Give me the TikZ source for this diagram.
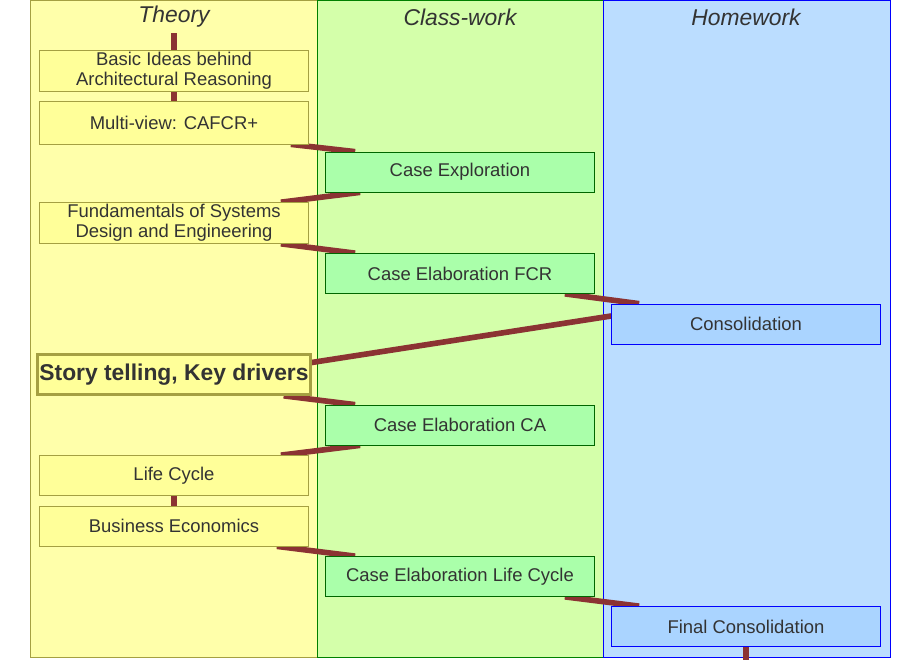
\documentclass[tikz,border=0pt]{standalone}
\usepackage{fontspec}
\setmainfont{Liberation Sans}
\usetikzlibrary{positioning}
\pgfdeclarelayer{bg}
\pgfdeclarelayer{mid}
\pgfsetlayers{bg,mid,main}

\definecolor{colY}{HTML}{FFFFAA}
\definecolor{colG}{HTML}{D4FFAA}
\definecolor{colB}{HTML}{BBDDFF}
\definecolor{boxY}{HTML}{FFFF99}
\definecolor{boxG}{HTML}{AAFFAA}
\definecolor{boxB}{HTML}{AAD4FF}
\definecolor{link}{HTML}{8B3333}
\definecolor{txt}{HTML}{333333}

\newlength{\pxu}
\setlength{\pxu}{0.2mm}
\tikzset{
  stepbox/.style={draw, minimum width=269\pxu, minimum height=40\pxu, inner sep=1pt,
    align=center, font=\fontsize{10.5}{11.5}\selectfont, text=txt},
  theory/.style={stepbox, fill=boxY, draw=black!40!yellow},
  classw/.style={stepbox, fill=boxG, draw=green!40!black},
  homew/.style={stepbox, fill=boxB, draw=blue},
  link/.style={draw=link, line width=3.2pt},
  head/.style={font=\fontsize{13}{14}\selectfont\itshape, text=txt}
}

\begin{document}
\begin{tikzpicture}[x=0.2mm, y=-0.2mm]
  \useasboundingbox (0,0) rectangle (920,660);
  % columns
  \begin{pgfonlayer}{bg}
    \draw[fill=colY, draw=black!40!yellow] (30,0) rectangle (317,657);
    \draw[fill=colG, draw=green!50!black] (317,0) rectangle (603,657);
    \draw[fill=colB, draw=blue] (603,0) rectangle (890,657);
  \end{pgfonlayer}
  \node[head] (hT) at (174,17) {Theory};
  \node[head] (hC) at (460,17) {Class-work};
  \node[head] (hH) at (746,17) {Homework};

  % theory
  \node[theory] (basic) at (174,71) {Basic Ideas behind\\Architectural Reasoning};
  \node[theory, minimum height=43\pxu] (mview) at (174,122.5) {Multi-view: CAFCR+};
  \node[theory] (fund) at (174,223) {Fundamentals of Systems\\Design and Engineering};
  \node[theory, line width=1.5pt, font=\fontsize{13}{14}\selectfont\bfseries] (story) at (174,374.5) {Story telling, Key drivers};
  \node[theory] (life) at (174,475.5) {Life Cycle};
  \node[theory] (econ) at (174,526) {Business Economics};

  % class-work
  \node[classw] (explo) at (460,172) {Case Exploration};
  \node[classw] (fcr) at (460,273.5) {Case Elaboration FCR};
  \node[classw] (ca) at (460,425) {Case Elaboration CA};
  \node[classw] (clife) at (460,576.5) {Case Elaboration Life Cycle};

  % homework
  \node[homew] (cons) at (746,324) {Consolidation};
  \node[homew] (fcons) at (746,626.5) {Final Consolidation};

  \coordinate (top) at (174,33);
  \coordinate (bot) at (746,660);

  % connectors
  \begin{pgfonlayer}{mid}
    \draw[link] (top) -- (basic);
    \draw[link] (basic) -- (mview);
    \draw[link] ([xshift=-18\pxu]mview.south east) -- ([xshift=30\pxu]explo.north west);
    \draw[link] ([xshift=35\pxu]explo.south west) -- ([xshift=-28\pxu]fund.north east);
    \draw[link] ([xshift=-28\pxu]fund.south east) -- ([xshift=30\pxu]fcr.north west);
    \draw[link] ([xshift=-30\pxu]fcr.south east) -- ([xshift=28\pxu]cons.north west);
    \draw[link] ([yshift=8\pxu]cons.west) -- ([yshift=12\pxu]story.east);
    \draw[link] ([xshift=-28\pxu]story.south east) -- ([xshift=30\pxu]ca.north west);
    \draw[link] ([xshift=35\pxu]ca.south west) -- ([xshift=-28\pxu]life.north east);
    \draw[link] (life) -- (econ);
    \draw[link] ([xshift=-32\pxu]econ.south east) -- ([xshift=30\pxu]clife.north west);
    \draw[link] ([xshift=-30\pxu]clife.south east) -- ([xshift=28\pxu]fcons.north west);
    \draw[link] (fcons) -- (bot);
  \end{pgfonlayer}
\end{tikzpicture}
\end{document}
